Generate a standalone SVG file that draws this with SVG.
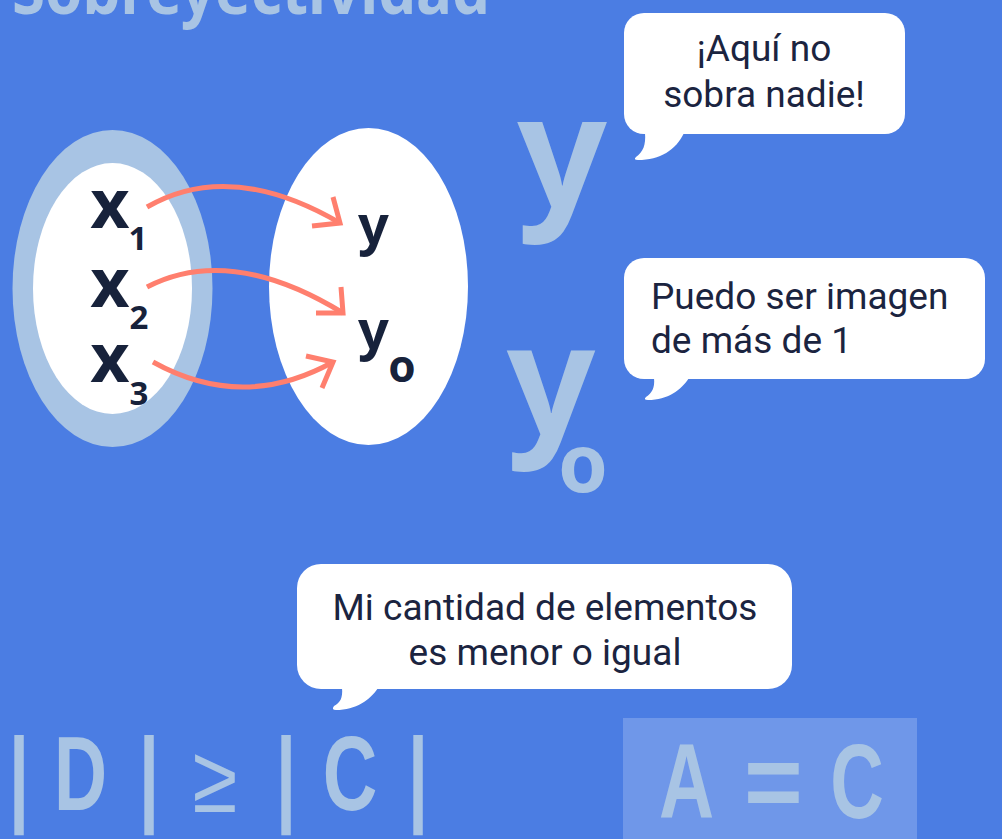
<svg xmlns="http://www.w3.org/2000/svg" width="1002" height="839" viewBox="0 0 1002 839">
<defs>
<style>
.bg{fill:#4B7DE3}
.lb{fill:#A8C4E4}
.wh{fill:#FFFFFF}
.dk{fill:#17223B;font-family:"Noto Sans","DejaVu Sans",sans-serif;font-weight:bold}
.big{fill:#A8C4E4;font-family:"Noto Sans","DejaVu Sans",sans-serif;font-weight:bold}
.bt{fill:#1B2440;font-family:Roboto,"Liberation Sans",sans-serif;font-size:37px}
.fm{fill:#A8C4E4;font-family:"Liberation Sans",Arial,sans-serif;font-weight:bold;font-size:105px;text-anchor:middle}
.arr{fill:none;stroke:#FF7F6E;stroke-width:5;stroke-linecap:butt;stroke-linejoin:miter}
</style>
</defs>
<rect class="bg" x="0" y="0" width="1002" height="839"/>

<g id="title">
<text class="big" x="12" y="14" font-size="66" textLength="478" lengthAdjust="spacingAndGlyphs">Sobreyectividad</text>
</g>

<g id="domain">
<ellipse class="lb" cx="112.5" cy="288.5" rx="100" ry="158.5"/>
<ellipse class="wh" cx="112.5" cy="288.5" rx="79.5" ry="125.5"/>
<text class="dk" x="110" y="228" font-size="68" text-anchor="middle">x</text>
<text class="dk" x="138" y="250" font-size="33" text-anchor="middle">1</text>
<text class="dk" x="110" y="307" font-size="68" text-anchor="middle">x</text>
<text class="dk" x="139" y="329" font-size="33" text-anchor="middle">2</text>
<text class="dk" x="110" y="382" font-size="68" text-anchor="middle">x</text>
<text class="dk" x="139" y="405" font-size="33" text-anchor="middle">3</text>
</g>

<g id="codomain">
<ellipse class="wh" cx="368.5" cy="286.5" rx="99.5" ry="158.5"/>
<text class="dk" x="373.5" y="244" font-size="54" text-anchor="middle">y</text>
<text class="dk" x="373.5" y="349" font-size="54" text-anchor="middle">y</text>
<text class="dk" x="402" y="382" font-size="44" text-anchor="middle">o</text>
</g>

<g id="connectors">
<path class="arr" d="M147,207 Q230,159 340,223"/>
<path class="arr" d="M333,197 L340,223 L312,226"/>
<path class="arr" d="M147,287 Q230,244 343,313"/>
<path class="arr" d="M341,287 L343,313 L316,313"/>
<path class="arr" d="M153,362 Q243,412 333,362"/>
<path class="arr" d="M306,356 L333,362 L322,388"/>
</g>

<g id="big-y">
<text class="big" x="562" y="207" font-size="157" text-anchor="middle">y</text>
</g>
<g id="big-y0">
<text class="big" x="551" y="435" font-size="155" text-anchor="middle">y</text>
<text class="big" x="583" y="492" font-size="80" text-anchor="middle">o</text>
</g>

<g id="bubble1">
<rect class="wh" x="624" y="13" width="281" height="121" rx="20"/>
<path class="wh" d="M645,133 C646,145 643,152 636,157 Q633,160 638,160 C660,160 676,150 684,133 Z"/>
<text class="bt" x="764" y="61" text-anchor="middle">¡Aquí no</text>
<text class="bt" x="764" y="107" text-anchor="middle">sobra nadie!</text>
</g>

<g id="bubble2">
<rect class="wh" x="624" y="258" width="361" height="121" rx="20"/>
<path class="wh" d="M654,378 C655,388 652,393 646,397 Q643,400 648,400 C668,400 681,390 689,378 Z"/>
<text class="bt" x="651" y="309">Puedo ser imagen</text>
<text class="bt" x="651" y="353">de más de 1</text>
</g>

<g id="bubble3">
<rect class="wh" x="297" y="564" width="495" height="125" rx="24"/>
<path class="wh" d="M342,688 C343,698 340,703 334,706 Q331,710 336,710 C356,710 370,700 378,688 Z"/>
<text class="bt" x="545" y="620" text-anchor="middle">Mi cantidad de elementos</text>
<text class="bt" x="545" y="665" text-anchor="middle">es menor o igual</text>
</g>

<g id="formula1">
<text class="fm" transform="translate(19,812) scale(0.7,1)">|</text>
<text class="fm" transform="translate(80.5,810) scale(0.7,1)">D</text>
<text class="fm" transform="translate(149,812) scale(0.7,1)">|</text>
<text class="fm" transform="translate(215,812) scale(0.85,1)" style="font-weight:normal;font-size:96px">≥</text>
<text class="fm" transform="translate(286,812) scale(0.7,1)">|</text>
<text class="fm" transform="translate(350,810) scale(0.72,1)">C</text>
<text class="fm" transform="translate(418,812) scale(0.7,1)">|</text>
</g>

<g id="formula2">
<rect x="623" y="718" width="294" height="121" fill="#6F97E9"/>
<text class="fm" transform="translate(686.5,818) scale(0.72,1)" style="font-size:106px">A</text>
<text class="fm" transform="translate(773.5,818) scale(0.95,1)" style="font-size:106px">=</text>
<text class="fm" transform="translate(857,818) scale(0.7,1)" style="font-size:106px">C</text>
</g>
</svg>
